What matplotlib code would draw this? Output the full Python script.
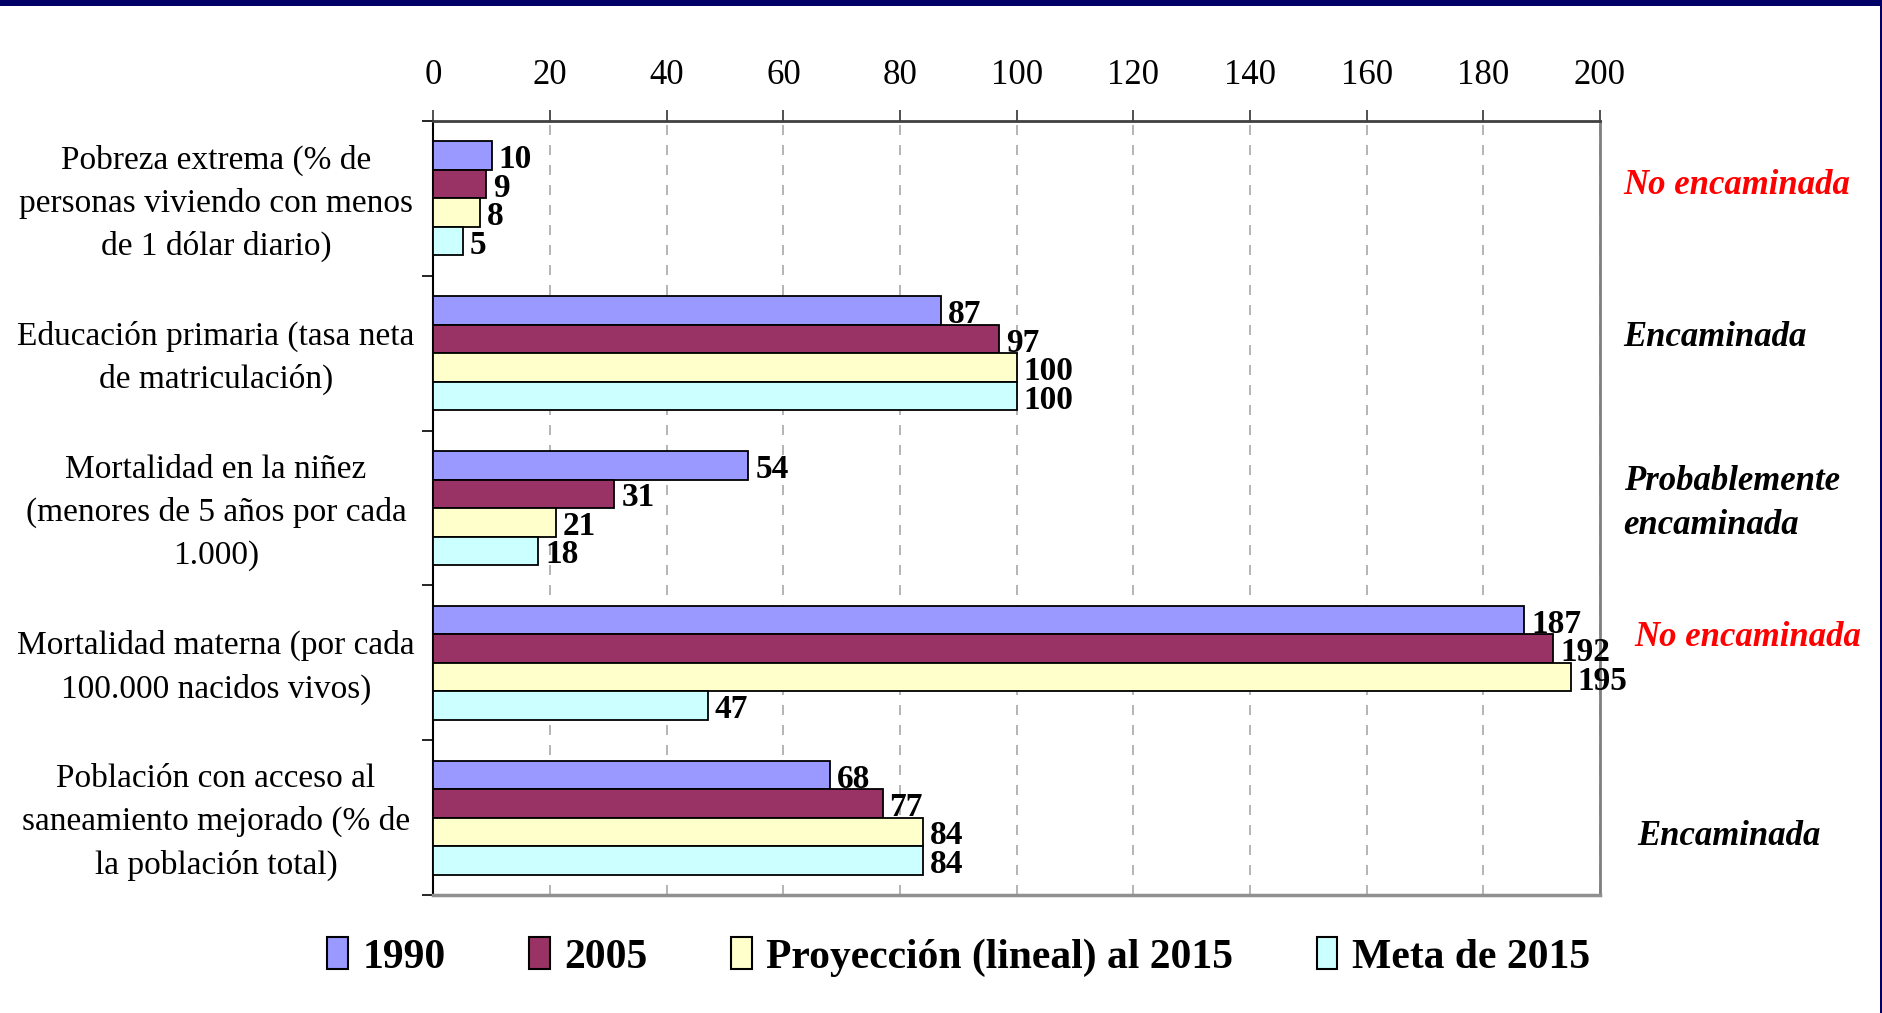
import matplotlib.pyplot as plt
import numpy as np
from matplotlib.patches import Patch, Rectangle

plt.rcParams["font.family"] = ["Liberation Serif", "DejaVu Serif"]

categories = [
    "Pobreza extrema (% de\npersonas viviendo con menos\nde 1 dólar diario)",
    "Educación primaria (tasa neta\nde matriculación)",
    "Mortalidad en la niñez\n(menores de 5 años por cada\n1.000)",
    "Mortalidad materna (por cada\n100.000 nacidos vivos)",
    "Población con acceso al\nsaneamiento mejorado (% de\nla población total)",
]
series_names = ["1990", "2005", "Proyección (lineal) al 2015", "Meta de 2015"]
v1990 = [10, 87, 54, 187, 68]
v2005 = [9, 97, 31, 192, 77]
proyeccion = [8, 100, 21, 195, 84]
meta = [5, 100, 18, 47, 84]
status = ["No encaminada", "Encaminada", "Probablemente\nencaminada",
          "No encaminada", "Encaminada"]
status_colors = ["#FF0000", "black", "black", "#FF0000", "black"]

colors = ["#9999FF", "#993366", "#FFFFCC", "#CCFFFF"]

fig = plt.figure(figsize=(18.83, 10.13), dpi=100)
ax = fig.add_axes([0.2302, 0.1165, 0.6195, 0.764])

y = np.arange(len(categories))
h = 0.184
all_series = [v1990, v2005, proyeccion, meta]
for i, vals in enumerate(all_series):
    pos = y + (i - 1.5) * h
    bars = ax.barh(pos, vals, height=h, color=colors[i], edgecolor="black",
                   linewidth=1.3, zorder=3)
    for bar, v in zip(bars, vals):
        ax.annotate(f"{v}", xy=(bar.get_width(), bar.get_y() + h / 2),
                    xytext=(5, -3), textcoords="offset points",
                    ha="left", va="center", fontsize=24, fontweight="bold",
                    zorder=4)

ax.set_xlim(0, 200)
ax.set_ylim(len(categories) - 0.5, -0.5)
ax.set_xticks(np.arange(0, 201, 20))
ax.xaxis.tick_top()
ax.tick_params(axis="x", direction="out", length=8, width=1.2, pad=13,
               labelsize=25, color="#333333")
ax.set_yticks(np.arange(-0.5, len(categories), 1.0))
ax.set_yticklabels([])
ax.tick_params(axis="y", direction="out", length=8, width=1.2, color="black")
ax.grid(axis="x", color="#A8A8A8", linestyle=(0, (6, 6)), linewidth=1.2, zorder=0)

ax.spines["top"].set_color("#404040")
ax.spines["top"].set_linewidth(2)
ax.spines["left"].set_color("black")
ax.spines["left"].set_linewidth(1.5)
ax.spines["right"].set_color("#808080")
ax.spines["right"].set_linewidth(2)
ax.spines["bottom"].set_color("#909090")
ax.spines["bottom"].set_linewidth(2.5)

ytr = ax.get_yaxis_transform()
for i, lab in enumerate(categories):
    ax.text(-0.1865, y[i] + 0.03, lab, transform=ytr, ha="center", va="center",
            fontsize=24, linespacing=1.5)

status_x = [1.0202, 1.0202, 1.0202, 1.0295, 1.0316]
status_dy = [-0.081, -0.102, -0.031, -0.161, 0.12]
for i, s in enumerate(status):
    ax.text(status_x[i], y[i] + status_dy[i], s, transform=ytr, ha="left",
            va="center", fontsize=25, fontweight="bold", fontstyle="italic",
            color=status_colors[i], linespacing=1.45)

handles = [Patch(facecolor=c, edgecolor="black", linewidth=1.5) for c in colors]
leg = fig.legend(handles, series_names, loc="center", bbox_to_anchor=(0.509, 0.0553),
                 ncol=4, frameon=False, prop={"size": 30, "weight": "bold"},
                 handlelength=0.5, handleheight=0.8, handletextpad=0.35,
                 columnspacing=2.0)

# dark frame edges of the original slide
fig.patches.append(Rectangle((0, 1 - 6 / 1013), 1, 6 / 1013, transform=fig.transFigure,
                             facecolor="#000066", edgecolor="none"))
fig.patches.append(Rectangle((1 - 3 / 1883, 0), 3 / 1883, 1, transform=fig.transFigure,
                             facecolor="#000066", edgecolor="none"))

fig.savefig("out.png", dpi=100)
